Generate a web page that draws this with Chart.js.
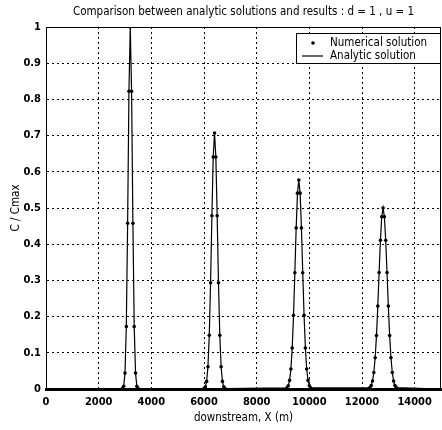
<!DOCTYPE html>
<html>
<head>
<meta charset="utf-8">
<script src="https://cdn.jsdelivr.net/npm/chart.js@4.4.1/dist/chart.umd.min.js"></script>
<style>
  body { margin: 0; background: #fff; }
  canvas { display: block; }
</style>
</head>
<body>
<canvas id="compare-chart" width="442" height="430"></canvas>
<script>
/**
 * Numerical vs analytic solution, d = 1, u = 1
 */

const titleText = 'Comparison between analytic solutions and results : d = 1 , u = 1';
const xLabel = 'downstream, X (m)';
const yLabel = 'C / Cmax';
const seriesNames = ['Numerical solution', 'Analytic solution'];

const xTickValues = [0, 2000, 4000, 6000, 8000, 10000, 12000, 14000];
const yTickValues = [0, 0.1, 0.2, 0.3, 0.4, 0.5, 0.6, 0.7, 0.8, 0.9, 1];

// the four pulses (x in m, value C/Cmax)
const peak1X = [2900, 2950, 3000, 3050, 3100, 3150, 3200, 3250, 3300, 3350, 3400, 3450, 3500];
const peak1Y = [0.0009, 0.0076, 0.0439, 0.1724, 0.4578, 0.8226, 1.0, 0.8226, 0.4578, 0.1724, 0.0439, 0.0076, 0.0009];

const peak2X = [6000, 6050, 6100, 6150, 6200, 6250, 6300, 6350, 6400, 6450, 6500, 6550, 6600, 6650, 6700, 6750, 6800];
const peak2Y = [0.0014, 0.0059, 0.0210, 0.0616, 0.1482, 0.2936, 0.4785, 0.6410, 0.7071, 0.6410, 0.4785, 0.2936, 0.1482, 0.0616, 0.0210, 0.0059, 0.0014];

const peak3X = [9150, 9200, 9250, 9300, 9350, 9400, 9450, 9500, 9550, 9600, 9650, 9700, 9750, 9800, 9850, 9900, 9950, 10000, 10050];
const peak3Y = [0.0030, 0.0090, 0.0238, 0.0554, 0.1134, 0.2038, 0.3210, 0.4450, 0.5410, 0.5774, 0.5410, 0.4450, 0.3210, 0.2038, 0.1134, 0.0554, 0.0238, 0.0090, 0.0030];

const peak4X = [12300, 12350, 12400, 12450, 12500, 12550, 12600, 12650, 12700, 12750, 12800, 12850, 12900, 12950, 13000, 13050, 13100, 13150, 13200, 13250, 13300];
const peak4Y = [0.0038, 0.0096, 0.0220, 0.0457, 0.0862, 0.1475, 0.2290, 0.3220, 0.4110, 0.4760, 0.5000, 0.4760, 0.4110, 0.3220, 0.2290, 0.1475, 0.0862, 0.0457, 0.0220, 0.0096, 0.0038];

const domainX = [0, 15000];

const FONT = '"DejaVu Sans Condensed", "Liberation Sans", sans-serif';

function toPoints(xs, ys) {
    return xs.map((x, i) => ({ x: x, y: ys[i] }));
}

const numericalPts = [].concat(
    toPoints(peak1X, peak1Y), toPoints(peak2X, peak2Y),
    toPoints(peak3X, peak3Y), toPoints(peak4X, peak4Y));

const analyticPts = [{ x: domainX[0], y: 0 }].concat(numericalPts, [{ x: domainX[1], y: 0 }]);

// title centred over the plot, plus frame and boxed legend inside the plot
const matlabBits = {
    id: 'matlabBits',
    afterDraw(chart) {
        const ctx = chart.ctx;
        const a = chart.chartArea;
        ctx.save();

        // solid frame
        ctx.strokeStyle = '#000';
        ctx.lineWidth = 1;
        ctx.setLineDash([]);
        ctx.strokeRect(a.left + 0.5, a.top + 0.5, a.right - a.left - 1, a.bottom - a.top - 1);

        // title
        ctx.fillStyle = '#000';
        ctx.font = '11.5px ' + FONT;
        ctx.textAlign = 'center';
        ctx.textBaseline = 'middle';
        ctx.fillText(titleText, (a.left + a.right) / 2, 12);

        // legend
        const bx = 296, by = 33, bw = a.right - 296, bh = 31;
        ctx.fillStyle = '#fff';
        ctx.fillRect(bx, by, bw, bh);
        ctx.strokeRect(bx + 0.5, by + 0.5, bw - 1, bh - 1);

        ctx.fillStyle = '#000';
        ctx.beginPath();
        ctx.arc(313, 43, 1.8, 0, Math.PI * 2);
        ctx.fill();

        ctx.lineWidth = 1.2;
        ctx.beginPath();
        ctx.moveTo(302, 56);
        ctx.lineTo(323, 56);
        ctx.stroke();

        ctx.font = '11.5px ' + FONT;
        ctx.textAlign = 'left';
        ctx.fillText(seriesNames[0], 330, 43);
        ctx.fillText(seriesNames[1], 330, 56);
        ctx.restore();
    }
};

const ctx = document.getElementById('compare-chart').getContext('2d');

const chart = new Chart(ctx, {
    type: 'scatter',
    data: {
        datasets: [{
            label: seriesNames[1],
            data: analyticPts,
            showLine: true,
            borderColor: '#000',
            borderWidth: 1.2,
            pointRadius: 0,
            tension: 0
        }, {
            label: seriesNames[0],
            data: numericalPts,
            showLine: false,
            backgroundColor: '#000',
            borderColor: '#000',
            pointRadius: 1.8,
            borderWidth: 0
        }]
    },
    options: {
        responsive: false,
        animation: false,
        devicePixelRatio: 1,
        layout: { autoPadding: false, padding: { top: 27, right: 1, left: 0, bottom: 0 } },
        plugins: {
            legend: { display: false },
            title: { display: false },
            tooltip: { enabled: false }
        },
        scales: {
            x: {
                type: 'linear',
                min: domainX[0],
                max: domainX[1],
                afterBuildTicks: s => { s.ticks = xTickValues.map(v => ({ value: v })); },
                afterFit: s => { s.height = 41; s.paddingLeft = 0; s.paddingRight = 0; },
                grid: { color: '#000', lineWidth: 1, drawTicks: false },
                border: { display: true, color: '#000', width: 3, dash: [2, 3] },
                ticks: {
                    color: '#000',
                    padding: 7,
                    maxRotation: 0,
                    callback: v => String(v),
                    font: { family: FONT, size: 11, weight: 'bold' }
                },
                title: {
                    display: true,
                    text: xLabel,
                    color: '#000',
                    padding: { top: 0, bottom: 5 },
                    font: { family: FONT, size: 11.5 }
                }
            },
            y: {
                type: 'linear',
                min: 0,
                max: 1,
                afterBuildTicks: s => { s.ticks = yTickValues.map(v => ({ value: v })); },
                afterFit: s => { s.width = 46; },
                grid: { color: '#000', lineWidth: 1, drawTicks: false },
                border: { display: true, color: '#000', width: 1, dash: [2, 3] },
                ticks: {
                    color: '#000',
                    padding: 5,
                    callback: v => String(v),
                    font: { family: FONT, size: 11, weight: 'bold' }
                },
                title: {
                    display: true,
                    text: yLabel,
                    color: '#000',
                    padding: { top: 9, bottom: 0 },
                    font: { family: FONT, size: 11.5 }
                }
            }
        }
    },
    plugins: [matlabBits]
});
</script>
</body>
</html>
